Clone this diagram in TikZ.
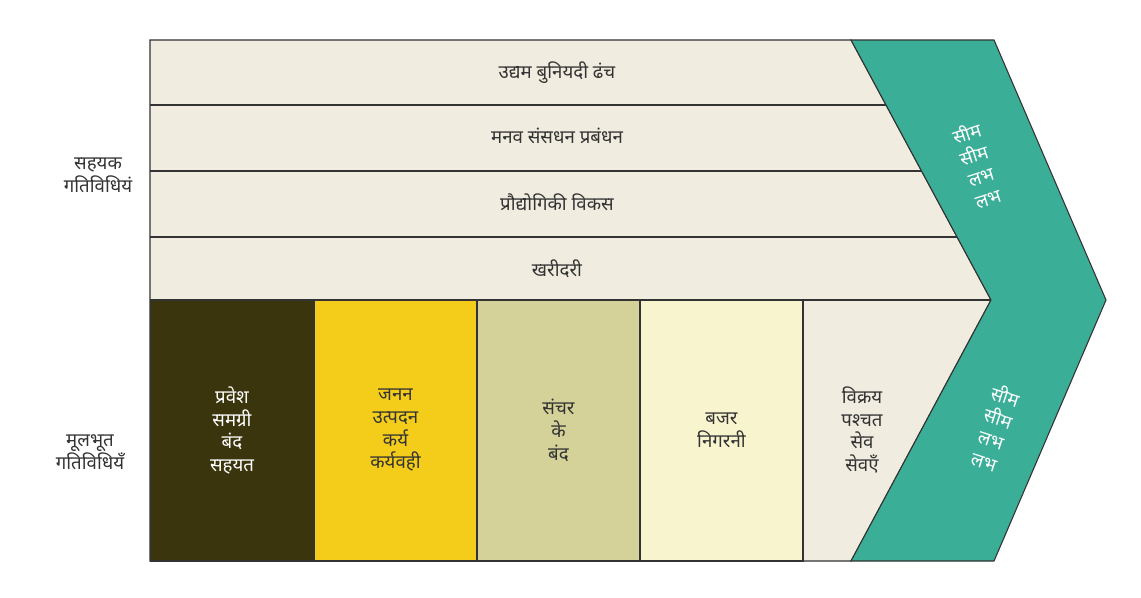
\documentclass[tikz,border=0pt]{standalone}
\usepackage{fontspec}
\newfontfamily\hindifont[Script=Devanagari]{Noto Sans}
\definecolor{chainBeige}{RGB}{240,236,223}
\definecolor{chainOlive}{RGB}{59,53,14}
\definecolor{chainYellow}{RGB}{244,205,26}
\definecolor{chainKhaki}{RGB}{212,210,153}
\definecolor{chainCream}{RGB}{248,244,206}
\definecolor{chainTeal}{RGB}{59,174,152}
\definecolor{lineGray}{RGB}{51,51,51}
\definecolor{textGray}{RGB}{51,51,51}

\begin{document}
\begin{tikzpicture}[x=0.75pt, y=-0.75pt, font=\hindifont\bfseries\fontsize{14}{17}\selectfont]
	\tikzstyle{lineStyle}=[draw=lineGray, line width=0.8pt]
	\tikzstyle{boxStyle}=[lineStyle, minimum width=122.25pt, minimum height=195.75pt, inner sep=0pt, align=center, text=textGray]
	\tikzstyle{rowStyle}=[align=center, text=textGray, inner sep=1pt]
	\tikzstyle{marginStyle}=[align=center, text=white, inner sep=1pt]
	\useasboundingbox (0,0) rectangle (1141,597);
	\fill[white] (0,0) rectangle (1141,597);
	\draw[lineStyle, fill=chainBeige] (150,40) -- (851,40) -- (991,300) -- (851,561) -- (150,561) -- cycle;
	\draw[lineStyle] (150,105) -- (886,105);
	\draw[lineStyle] (150,171) -- (921.5,171);
	\draw[lineStyle] (150,237) -- (957,237);
	\draw[lineStyle] (150,300) -- (991,300);
	\node[boxStyle, fill=chainOlive, text=white] (inbound) at (232,430.5) {प्रवेश\\समग्री\\बंद\\सहयत};
	\node[boxStyle, fill=chainYellow] (operations) at (395.5,430.5) {जनन\\उत्पदन\\कर्य\\कर्यवही};
	\node[boxStyle, fill=chainKhaki] (outbound) at (558.5,430.5) {संचर\\के\\बंद};
	\node[boxStyle, fill=chainCream] (marketing) at (721.5,430.5) {बजर\\निगरनी};
	\node[rowStyle] (service) at (862,430) {विक्रय\\पश्चत\\सेव\\सेवएँ};
	\draw[lineStyle, fill=chainTeal] (851,40) -- (994,40) -- (1106,300) -- (994,561) -- (851,561) -- (991,300) -- cycle;
	\node[rowStyle] (infra) at (557,72.5) {उद्यम बुनियदी ढंच};
	\node[rowStyle] (hrm) at (557,136) {मनव संसधन प्रबंधन};
	\node[rowStyle] (tech) at (557,202) {प्रौद्योगिकी विकस};
	\node[rowStyle] (procure) at (557,268.5) {खरीदरी};
	\node[rowStyle] (support) at (98,175) {सहयक\\गतिविधियं};
	\node[rowStyle] (primary) at (90,452) {मूलभूत\\गतिविधियँ};
	\node[marginStyle, rotate=18] (marginTop) at (977,165) {सीम\\सीम\\लभ\\लभ};
	\node[marginStyle, rotate=-18] (marginBottom) at (995,428) {सीम\\सीम\\लभ\\लभ};
\end{tikzpicture}
\end{document}
